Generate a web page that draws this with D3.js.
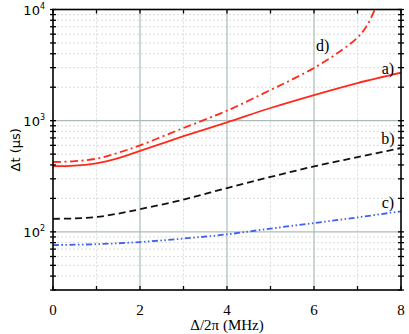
<!DOCTYPE html>
<meta charset="utf-8">
<style>
body { margin: 0; background: #fff; }
.curve { fill: none; stroke-width: 1.8px; }
.lbl { font-family: "Liberation Serif", serif; font-size: 16px; }
</style>
<body>
<script src="https://d3js.org/d3.v7.min.js"></script>
<script>

// data
var xA = [0, 0.5, 1, 1.5, 2, 3, 4, 5, 6, 7, 8];
var curveA = [390, 395, 413, 460, 535, 725, 965, 1300, 1700, 2180, 2700];
var xB = [0, 0.5, 1, 1.5, 2, 3, 4, 5, 6, 7, 8];
var curveB = [131, 132, 136, 146, 160, 195, 248, 312, 388, 470, 568];
var xC = [0, 1, 2, 3, 4, 5, 6, 7, 8];
var curveC = [76, 77.5, 81, 87, 95, 107, 120, 135, 153];
var xD = [0, 0.5, 1, 1.5, 2, 3, 4, 5, 5.5, 6, 6.5, 7, 7.2, 7.4, 7.5];
var curveD = [425, 432, 455, 515, 600, 860, 1230, 1890, 2350, 2980, 3950, 5600, 7000, 10000, 12500];
var xTicks = [0, 2, 4, 6, 8];
var yTicks = [100, 1000, 10000];

var margin = {top: 9.5, right: 8, bottom: 44, left: 53},
    width = 409 - margin.left - margin.right,
    height = 334 - margin.top - margin.bottom;

var x = d3.scaleLinear().domain([0, 8]).range([0, width]);
var y = d3.scaleLog().domain([30, 10000]).range([height, 0]);

var svg = d3.select("body").append("svg")
    .attr("width", 409)
    .attr("height", 334)
  .append("g")
    .attr("transform", "translate(" + margin.left + "," + margin.top + ")");

// minor grid
var minorY = [];
[10, 100, 1000].forEach(function(d) {
  for (var k = 2; k <= 9; k++) if (d * k >= 30) minorY.push(d * k);
});
svg.selectAll(".mgy").data(minorY).enter().append("line")
    .attr("x1", 0).attr("x2", width)
    .attr("y1", function(d) { return y(d); }).attr("y2", function(d) { return y(d); })
    .style("stroke", "#cfd4d2").style("stroke-width", 0.8).style("stroke-dasharray", "2,2");
svg.selectAll(".mgx").data([1, 3, 5, 7]).enter().append("line")
    .attr("y1", 0).attr("y2", height)
    .attr("x1", function(d) { return x(d); }).attr("x2", function(d) { return x(d); })
    .style("stroke", "#cfd4d2").style("stroke-width", 0.8).style("stroke-dasharray", "2,2");

// major grid
svg.selectAll(".gy").data([100, 1000]).enter().append("line")
    .attr("x1", 0).attr("x2", width)
    .attr("y1", function(d) { return y(d); }).attr("y2", function(d) { return y(d); })
    .style("stroke", "#aebbb7").style("stroke-width", 1.2);
svg.selectAll(".gx").data([2, 4, 6]).enter().append("line")
    .attr("y1", 0).attr("y2", height)
    .attr("x1", function(d) { return x(d); }).attr("x2", function(d) { return x(d); })
    .style("stroke", "#aebbb7").style("stroke-width", 1.2);

// curves
svg.append("clipPath").attr("id", "clip")
  .append("rect").attr("width", width).attr("height", height);

function drawCurve(xs, ys, color, dash) {
  var line = d3.line()
      .x(function(d, i) { return x(xs[i]); })
      .y(function(d) { return y(d); })
      .curve(d3.curveCatmullRom.alpha(0.5));
  svg.append("path")
      .datum(ys)
      .attr("class", "curve")
      .attr("clip-path", "url(#clip)")
      .attr("d", line)
      .style("stroke", color)
      .style("stroke-dasharray", dash);
}
drawCurve(xA, curveA, "#ff2a1a", null);
drawCurve(xB, curveB, "#111", "7,4");
drawCurve(xC, curveC, "#3f5ff0", "6,2.5,1.5,2.5,1.5,2.5");
drawCurve(xD, curveD, "#ff2a1a", "8,3.5,2,3.5");

// curve labels
var labels = [["a)", 7.7, 2650], ["b)", 7.7, 620], ["c)", 7.7, 163], ["d)", 6.2, 4200]];
svg.selectAll(".lbl").data(labels).enter().append("text")
    .attr("class", "lbl")
    .attr("x", function(d) { return x(d[1]); })
    .attr("y", function(d) { return y(d[2]); })
    .attr("text-anchor", "middle")
    .text(function(d) { return d[0]; });

// frame
svg.append("rect").attr("width", width).attr("height", height)
    .style("fill", "none").style("stroke", "#000").style("stroke-width", 1.6);

// x ticks (bottom and top, inward)
var xt = d3.range(0, 9);
svg.selectAll(".xtb").data(xt).enter().append("line")
    .attr("x1", function(d) { return x(d); }).attr("x2", function(d) { return x(d); })
    .attr("y1", height).attr("y2", height - 4)
    .style("stroke", "#000").style("stroke-width", 1.3);
svg.selectAll(".xtt").data(xt).enter().append("line")
    .attr("x1", function(d) { return x(d); }).attr("x2", function(d) { return x(d); })
    .attr("y1", 0).attr("y2", 4)
    .style("stroke", "#000").style("stroke-width", 1.3);

// y ticks (left and right, crossing)
var yt = minorY.concat(yTicks);
[0, width].forEach(function(px) {
  svg.selectAll(null).data(yt).enter().append("line")
      .attr("x1", px - 3).attr("x2", px + 3)
      .attr("y1", function(d) { return y(d); }).attr("y2", function(d) { return y(d); })
      .style("stroke", "#000").style("stroke-width", 1.3);
});

// x tick labels
svg.selectAll(".xl").data(xTicks).enter().append("text")
    .attr("x", function(d) { return x(d); })
    .attr("y", height + 25)
    .attr("text-anchor", "middle")
    .style("font-family", "Liberation Serif, serif")
    .style("font-size", "15px")
    .text(function(d) { return d; });

// y tick labels 10^n
var yl = svg.selectAll(".yl").data(yTicks).enter().append("text")
    .attr("x", -8)
    .attr("y", function(d) { return y(d) + 5; })
    .attr("text-anchor", "end")
    .style("font-family", "DejaVu Sans, sans-serif")
    .style("font-size", "13px");
yl.append("tspan").text("10");
yl.append("tspan")
    .attr("dy", -6)
    .style("font-size", "8px")
    .text(function(d) { return Math.round(Math.log10(d)); });

// axis titles
svg.append("text")
    .attr("x", width / 2)
    .attr("y", height + 40)
    .attr("text-anchor", "middle")
    .style("font-family", "Liberation Serif, serif")
    .style("font-size", "15px")
    .text("\u0394/2\u03c0 (MHz)");

svg.append("text")
    .attr("transform", "translate(" + (-33) + "," + (height / 2) + ") rotate(-90)")
    .attr("text-anchor", "middle")
    .style("font-family", "DejaVu Sans, sans-serif")
    .style("font-size", "13px")
    .text("\u0394t (\u03bcs)");

</script>
</body>
